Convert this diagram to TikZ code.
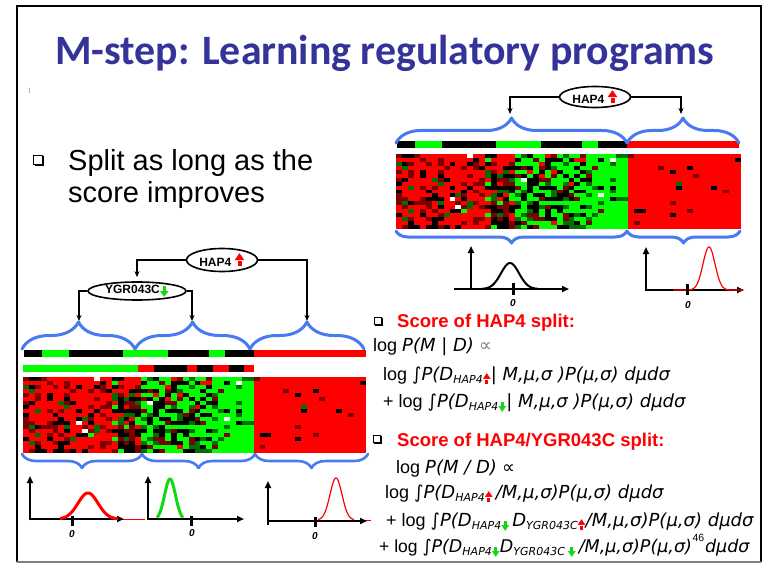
\documentclass[tikz,border=0pt]{standalone}
\usepackage{graphicx}
\usepackage{fontspec}
\setmainfont{Liberation Sans}
\newfontfamily\titlefont{Carlito}
\newfontfamily\symfont{DejaVu Sans}[ItalicFont={DejaVu Sans Oblique}]
\usetikzlibrary{arrows.meta,decorations.pathreplacing,shapes.geometric}

\definecolor{titleblue}{RGB}{51,51,153}
\definecolor{braceblue}{RGB}{72,122,240}
\definecolor{hm0}{RGB}{255,0,0}
\definecolor{hm1}{RGB}{125,0,0}
\definecolor{hm2}{RGB}{0,0,0}
\definecolor{hm3}{RGB}{0,110,0}
\definecolor{hm4}{RGB}{0,255,0}
\definecolor{hm5}{RGB}{255,255,255}
\definecolor{arrgreen}{RGB}{20,215,20}

% block arrows: colour, head width, head height, shaft width, shaft height
\newcommand\blkup[5]{\textcolor{#1}{\vbox{\offinterlineskip
    \hbox to #2{\hss\resizebox{#2}{#3}{\symfont ▲}\hss}%
    \hbox to #2{\hss\rule{#4}{#5}\hss}}}}
\newcommand\blkdn[5]{\textcolor{#1}{\vbox{\offinterlineskip
    \hbox to #2{\hss\rule{#4}{#5}\hss}%
    \hbox to #2{\hss\resizebox{#2}{#3}{\symfont ▼}\hss}}}}
\newcommand\geneUp{\blkup{red}{10pt}{6pt}{4pt}{5pt}}
\newcommand\geneDn{\blkdn{arrgreen}{9pt}{5pt}{3.5pt}{5pt}}
\newcommand\subUp{\raisebox{-4pt}{\blkup{red}{8pt}{5pt}{3pt}{4.5pt}}}
\newcommand\subDn{\raisebox{-4pt}{\blkdn{arrgreen}{8pt}{5pt}{3pt}{4.5pt}}}
% italic pieces and subscripts of the score formulas
\newcommand\pit[1]{{\symfont\itshape #1}}
\newcommand\gsub[1]{\raisebox{-3.5pt}{\fontsize{11}{11}\selectfont\symfont\itshape #1}}

% thresholds for the expression grid colour classes
\newcommand\setthr[5]{\def\ta{#1}\def\tb{#2}\def\tc{#3}\def\td{#4}\def\te{#5}}
% expression grid: #1,#2 top left corner, #3 width, #4 height
\newcommand\heatgrid[4]{%
  \pgfmathsetseed{4711}%
  \pgfmathsetmacro\hcw{#3/58}%
  \pgfmathsetmacro\hch{#4/19}%
  \foreach \hc in {0,...,57}{%
    \ifnum\hc<15 \setthr{0.64}{0.82}{0.955}{0.985}{0.993}%
    \else\ifnum\hc<20 \setthr{0.30}{0.52}{0.84}{0.90}{0.988}%
    \else\ifnum\hc<32 \setthr{0.05}{0.15}{0.45}{0.62}{0.992}%
    \else\ifnum\hc<39 \setthr{0.0}{0.02}{0.10}{0.20}{0.992}%
    \else \setthr{0.955}{0.975}{0.99}{0.993}{0.996}\fi\fi\fi\fi
    \foreach \hr in {0,...,18}{%
      \pgfmathsetmacro\hp{rnd}%
      \pgfmathtruncatemacro\hk{(\hp>\ta)+(\hp>\tb)+(\hp>\tc)+(\hp>\td)+(\hp>\te)}%
      \fill[hm\hk] ({#1+\hc*\hcw},{#2+\hr*\hch}) rectangle ++({\hcw+0.4},{\hch+0.4});
    }%
  }%
}

\tikzset{
  sqbul/.pic={
    \draw[line width=0.9pt] (-4.5,-4.5) rectangle (4.5,4.5);
    \draw[line width=1.8pt] (-3.5,5.4) -- (5.4,5.4) -- (5.4,-3.5);
  }
}

\begin{document}
\begin{tikzpicture}[x=1pt,y=-1pt,
  brc/.style={braceblue, line width=3pt, line cap=round, line join=round, decorate},
  conn/.style={line width=1.8pt, -{Stealth[length=6pt,width=5pt]}},
  gene/.style={ellipse, draw, line width=1.6pt, fill=white, inner sep=0pt,
               font=\fontsize{12}{12}\selectfont\bfseries},
  axisln/.style={line width=2.2pt, -{Triangle[length=7pt,width=6pt]}},
  tick/.style={line width=3pt},
  zlab/.style={font=\fontsize{10}{10}\selectfont\bfseries\itshape, inner sep=0pt},
  txt/.style={anchor=base west, inner sep=0pt, font=\fontsize{18}{20}\selectfont},
  head/.style={anchor=base west, inner sep=0pt, text=red,
               font=\fontsize{18.5}{20}\selectfont\bfseries}
]
\useasboundingbox (0,0) rectangle (767,564);
\fill[white] (0,0) rectangle (767,564);

% slide frame
\draw[line width=2pt] (17,562) -- (17,6) -- (761,6) -- (761,562);
\draw[gray, line width=2pt] (17,562) -- (761,562);
\draw[gray!60, line width=0.6pt] (29,88) -- (29,93);

% title
\node[anchor=base west, inner sep=0pt, text=titleblue,
      font=\titlefont\bfseries\fontsize{41.8}{42}\selectfont] (title) at (55,65)
      {M-step: Learning regulatory programs};

% first bullet
\pic at (38,160) {sqbul};
\node[anchor=base west, inner sep=0pt, font=\fontsize{29}{32}\selectfont] (split1) at (68,170) {Split as long as the};
\node[anchor=base west, inner sep=0pt, font=\fontsize{29}{32}\selectfont] (split2) at (68,202) {score improves};

% ---------- upper right: single split ----------
\heatgrid{396}{154}{345}{75}
\fill[black] (397,141) rectangle (627,148);
\fill[hm4] (415,141) rectangle (442,148);
\fill[hm4] (496,141) rectangle (541,148);
\fill[hm4] (582,141) rectangle (598,148);
\fill[hm0] (627,141) rectangle (739,148);

\draw[brc, decoration={brace, amplitude=25pt}] (396,143) -- (627,143);
\draw[brc, decoration={brace, amplitude=25pt}] (627,143) -- (739,143);
\draw[brc, decoration={brace, amplitude=12pt}] (627,231) -- (396,231);
\draw[brc, decoration={brace, amplitude=12pt}] (740,231) -- (627,231);

\node[gene, minimum width=71pt, minimum height=21pt] (hapT) at (595,97) {HAP4 \geneUp};
\coordinate (tA) at (510,114);
\coordinate (tB) at (681,114);
\draw[conn] (hapT.west) -| (tA);
\draw[conn] (hapT.east) -| (tB);

% distributions of the two clusters
\draw[axisln] (454,289) -- (569,289);
\draw[axisln] (471,290) -- (471,246);
\draw[line width=2pt] plot[domain=482:538, samples=60] (\x, {289-26*exp(-((\x-510)^2)/(2*81))});
\draw[tick] (513,283) -- (513,295);
\node[zlab] (z1) at (513,303) {0};

\draw[axisln] (646,290) -- (744,290);
\draw[axisln] (646,291) -- (646,247);
\draw[red, line width=1.2pt] plot[domain=673:743, samples=90] (\x, {290-43*exp(-((\x-709)^2)/(2*36))});
\draw[tick] (687,284) -- (687,295);
\node[zlab] (z2) at (688,305) {0};

% ---------- lower left: two splits ----------
\node[gene, minimum width=71pt, minimum height=23pt] (hapB) at (222,260) {HAP4 \geneUp};
\node[gene, minimum width=98pt, minimum height=18pt] (ygr) at (137,291) {YGR043C\raisebox{-3pt}{\geneDn}};
\coordinate (bA) at (79,321);
\coordinate (bB) at (192,321);
\coordinate (bC) at (307,321);
\draw[conn, shorten >=4pt] (hapB.west) -| (ygr.north);
\draw[conn] (hapB.east) -| (bC);
\draw[conn] (ygr.west) -| (bA);
\draw[conn] (ygr.east) -| (bB);

\draw[brc, decoration={brace, amplitude=27pt}] (22,349) -- (135,349);
\draw[brc, decoration={brace, amplitude=27pt}] (135,349) -- (250,349);
\draw[brc, decoration={brace, amplitude=27pt}] (250,349) -- (364,349);

\fill[black] (24,350) rectangle (254,357);
\fill[hm4] (42,350) rectangle (69,357);
\fill[hm4] (123,350) rectangle (168,357);
\fill[hm4] (209,350) rectangle (225,357);
\fill[hm0] (254,350) rectangle (366,357);

\fill[hm4] (23,365) rectangle (138,372);
\fill[hm0] (138,365) rectangle (154,372);
\fill[black] (154,365) rectangle (187,372);
\fill[hm0] (187,365) rectangle (197,372);
\fill[black] (197,365) rectangle (213,372);
\fill[hm0] (213,365) rectangle (229,372);
\fill[black] (229,365) rectangle (244,372);
\fill[hm0] (244,365) rectangle (254,372);

\heatgrid{23}{377}{343}{76}

\draw[brc, line width=2.6pt, decoration={brace, amplitude=14pt}] (142,454) -- (22,454);
\draw[brc, line width=2.6pt, decoration={brace, amplitude=14pt}] (255,454) -- (142,454);
\draw[brc, line width=2.6pt, decoration={brace, amplitude=14pt}] (368,454) -- (255,454);

% distributions of the three clusters
\draw[red, line width=1pt] (32,519) -- (145,519);
\draw[axisln] (30,519) -- (124,519);
\draw[axisln] (30,520) -- (30,476);
\draw[red, line width=3pt] plot[domain=60:118, samples=60] (\x, {519-26*exp(-((\x-88)^2)/(2*100))});
\draw[tick] (72,516) -- (72,526);
\node[zlab] (z3) at (72,534) {0};

\draw[axisln] (148,519) -- (244,519);
\draw[axisln] (148,520) -- (148,476);
\draw[arrgreen, line width=3pt] plot[domain=157:183, samples=40] (\x, {520-41*exp(-((\x-170)^2)/(2*30))});
\draw[tick] (191,516) -- (191,526);
\node[zlab] (z4) at (192,533) {0};

\draw[red, line width=1pt] (300,520) -- (371,520);
\draw[axisln] (268,521) -- (367,521);
\draw[axisln] (268,525) -- (268,481);
\draw[red, line width=1.2pt] plot[domain=318:354, samples=60] (\x, {520-42*exp(-((\x-336)^2)/(2*36))});
\draw[tick] (315,517) -- (315,527);
\node[zlab] (z5) at (315,536) {0};

% ---------- scores ----------
\pic[scale=0.75] at (378,321) {sqbul};
\node[head] (sc1) at (397,327) {Score of HAP4 split:};
\node[txt] (l1) at (373,351) {log \pit{P(M | D)} {\symfont\itshape\color{gray}∝}};
\node[txt] (l2) at (383,380) {log {\symfont∫}\pit{P(D}\gsub{HAP4}\subUp\pit{| M,μ,σ )P(μ,σ) dμdσ}};
\node[txt] (l3) at (383,407) {+ log {\symfont∫}\pit{P(D}\gsub{HAP4}\subDn\pit{| M,μ,σ )P(μ,σ) dμdσ}};

\pic[scale=0.75] at (377,439) {sqbul};
\node[head] (sc2) at (397,446) {Score of HAP4/YGR043C split:};
\node[txt] (l4) at (396,473) {log \pit{P(M / D)} {\symfont\itshape ∝}};
\node[txt] (l5) at (385,498) {log {\symfont∫}\pit{P(D}\gsub{HAP4}\subUp\,\pit{/M,μ,σ)P(μ,σ) dμdσ}};
\node[txt] (l6) at (386,526) {+ log {\symfont∫}\pit{P(D}\gsub{HAP4}\subDn\,\pit{D}\gsub{YGR043C}\subUp\pit{/M,μ,σ)P(μ,σ) dμdσ}};
\node[txt, font=\fontsize{17.5}{20}\selectfont] (l7a) at (379,552) {+ log {\symfont∫}\pit{P(D}\gsub{HAP4}\subDn\pit{D}\gsub{YGR043C}\,\subDn\,\pit{/M,μ,σ)P(μ,σ)}};
\node[anchor=base west, inner sep=0pt, font=\fontsize{10.5}{11}\selectfont] (pg) at ([xshift=0.3pt,yshift=11pt]l7a.base east) {46};
\coordinate (l7c) at (pg.east |- l7a.base east);
\node[txt, font=\fontsize{17.5}{20}\selectfont] (l7b) at ([xshift=0.3pt]l7c) {\pit{dμdσ}};
\end{tikzpicture}
\end{document}
